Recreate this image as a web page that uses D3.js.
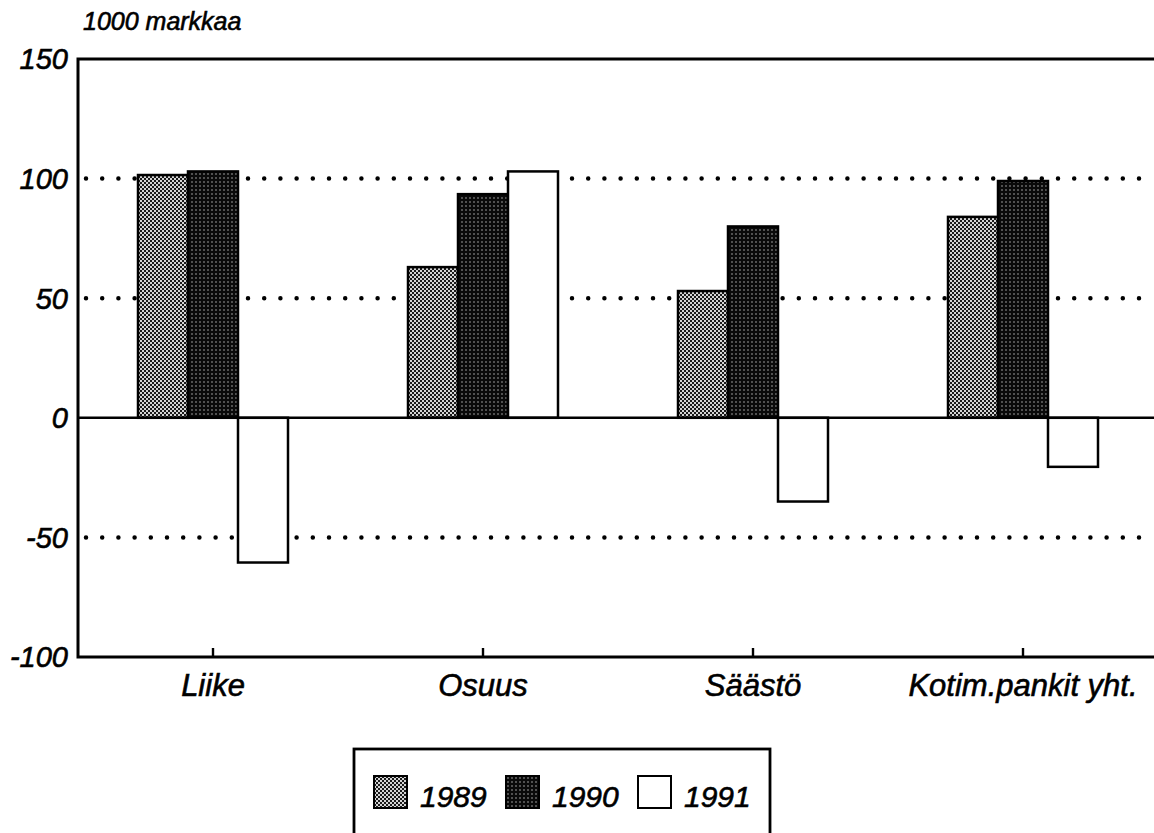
<!DOCTYPE html>
<html>
<head>
<meta charset="utf-8">
<script src="https://cdn.jsdelivr.net/npm/d3@7"></script>
<style>
  body { margin: 0; background: #fff; }
  svg { display: block; font-family: "Liberation Sans", Arial, sans-serif; font-style: italic; }
  svg text { stroke: #000; stroke-width: 0.6px; }
</style>
</head>
<body>
<div id="svg-container"></div>
<script>
// data
const categories = ["Liike", "Osuus", "Säästö", "Kotim.pankit yht."];
const years = ["1989", "1990", "1991"];
const values1989 = [101.5, 63, 53, 84];
const values1990 = [103, 93.5, 80, 99];
const values1991 = [-60.5, 103, -35, -20.5];
const yTicks = [150, 100, 50, 0, -50, -100];
const gridValues = [100, 50, -50];

const width = 1154, height = 833;
const margin = { top: 59, left: 78, bottom: 657, right: 1158 };

const svg = d3.select("#svg-container").append("svg")
  .attr("width", width).attr("height", height);

// halftone patterns
const defs = svg.append("defs");
const p1 = defs.append("pattern").attr("id", "pat1989")
  .attr("patternUnits", "userSpaceOnUse").attr("width", 4).attr("height", 4);
p1.append("rect").attr("width", 4).attr("height", 4).attr("fill", "#d4d4d4");
p1.append("rect").attr("width", 2).attr("height", 2).attr("fill", "#1a1a1a");
p1.append("rect").attr("x", 2).attr("y", 2).attr("width", 2).attr("height", 2).attr("fill", "#1a1a1a");

const p2 = defs.append("pattern").attr("id", "pat1990")
  .attr("patternUnits", "userSpaceOnUse").attr("width", 4).attr("height", 4);
p2.append("rect").attr("width", 4).attr("height", 4).attr("fill", "#0a0a0a");
p2.append("circle").attr("cx", 2).attr("cy", 2).attr("r", 0.75).attr("fill", "#bbb");

const fills = { "1989": "url(#pat1989)", "1990": "url(#pat1990)", "1991": "#fff" };

// scales
const y = d3.scaleLinear().domain([-100, 150]).range([margin.bottom, margin.top]);
const x0 = d3.scaleBand().domain(categories).range([margin.left, margin.right]);
const x1 = d3.scaleBand().domain(years).range([0, 150]);
const groupOffset = (x0.bandwidth() - 150) / 2;

// y title
svg.append("text").attr("x", 83).attr("y", 30)
  .attr("font-size", 25).attr("stroke-width", 0.4).text("1000 markkaa");

// grid
svg.append("g").selectAll("line").data(gridValues).enter().append("line")
  .attr("x1", margin.left + 8).attr("x2", width)
  .attr("y1", d => y(d)).attr("y2", d => y(d))
  .attr("stroke", "#000").attr("stroke-width", 4.5)
  .attr("stroke-linecap", "round").attr("stroke-dasharray", "0 16.2");

// bars
const rows = categories.map((c, i) => ({
  cat: c,
  vals: [
    { year: "1989", v: values1989[i] },
    { year: "1990", v: values1990[i] },
    { year: "1991", v: values1991[i] }
  ]
}));

const groups = svg.append("g").selectAll("g").data(rows).enter().append("g")
  .attr("transform", d => `translate(${x0(d.cat) + groupOffset},0)`);

groups.selectAll("rect").data(d => d.vals).enter().append("rect")
  .attr("x", d => x1(d.year))
  .attr("width", x1.bandwidth())
  .attr("y", d => y(Math.max(0, d.v)))
  .attr("height", d => Math.abs(y(d.v) - y(0)))
  .attr("fill", d => fills[d.year])
  .attr("stroke", "#000").attr("stroke-width", 2.5);

// zero line
svg.append("line")
  .attr("x1", margin.left).attr("x2", width)
  .attr("y1", y(0)).attr("y2", y(0))
  .attr("stroke", "#000").attr("stroke-width", 2.4);

// frame
svg.append("path")
  .attr("d", `M${width},${margin.top}H${margin.left}V${margin.bottom}H${width}`)
  .attr("fill", "none").attr("stroke", "#000").attr("stroke-width", 3);

// y axis labels
svg.append("g").selectAll("text").data(yTicks).enter().append("text")
  .attr("x", 68).attr("y", d => y(d)).attr("dy", "0.36em")
  .attr("text-anchor", "end").attr("font-size", 29)
  .text(d => d);

// x ticks and labels
const xAxis = d3.axisBottom(x0).tickSize(-9).tickPadding(18);
const xg = svg.append("g").attr("transform", `translate(0,${margin.bottom})`).call(xAxis);
xg.select(".domain").remove();
xg.selectAll(".tick line").attr("stroke", "#000").attr("stroke-width", 2.4);
xg.selectAll(".tick text")
  .attr("font-size", 31).attr("font-family", "Liberation Sans, Arial, sans-serif")
  .attr("font-style", "italic").attr("fill", "#000")
  .attr("dy", "0.68em");

// legend
const legend = svg.append("g");
legend.append("rect").attr("x", 354).attr("y", 749).attr("width", 416).attr("height", 110)
  .attr("fill", "#fff").attr("stroke", "#000").attr("stroke-width", 2.8);
const legendX = [374, 506, 638];
const items = legend.selectAll("g").data(years).enter().append("g")
  .attr("transform", (d, i) => `translate(${legendX[i]},776)`);
items.append("rect").attr("width", 33).attr("height", 32)
  .attr("fill", d => fills[d]).attr("stroke", "#000").attr("stroke-width", 2);
items.append("text").attr("x", 46).attr("y", 31)
  .attr("font-size", 30).text(d => d);
</script>
</body>
</html>
